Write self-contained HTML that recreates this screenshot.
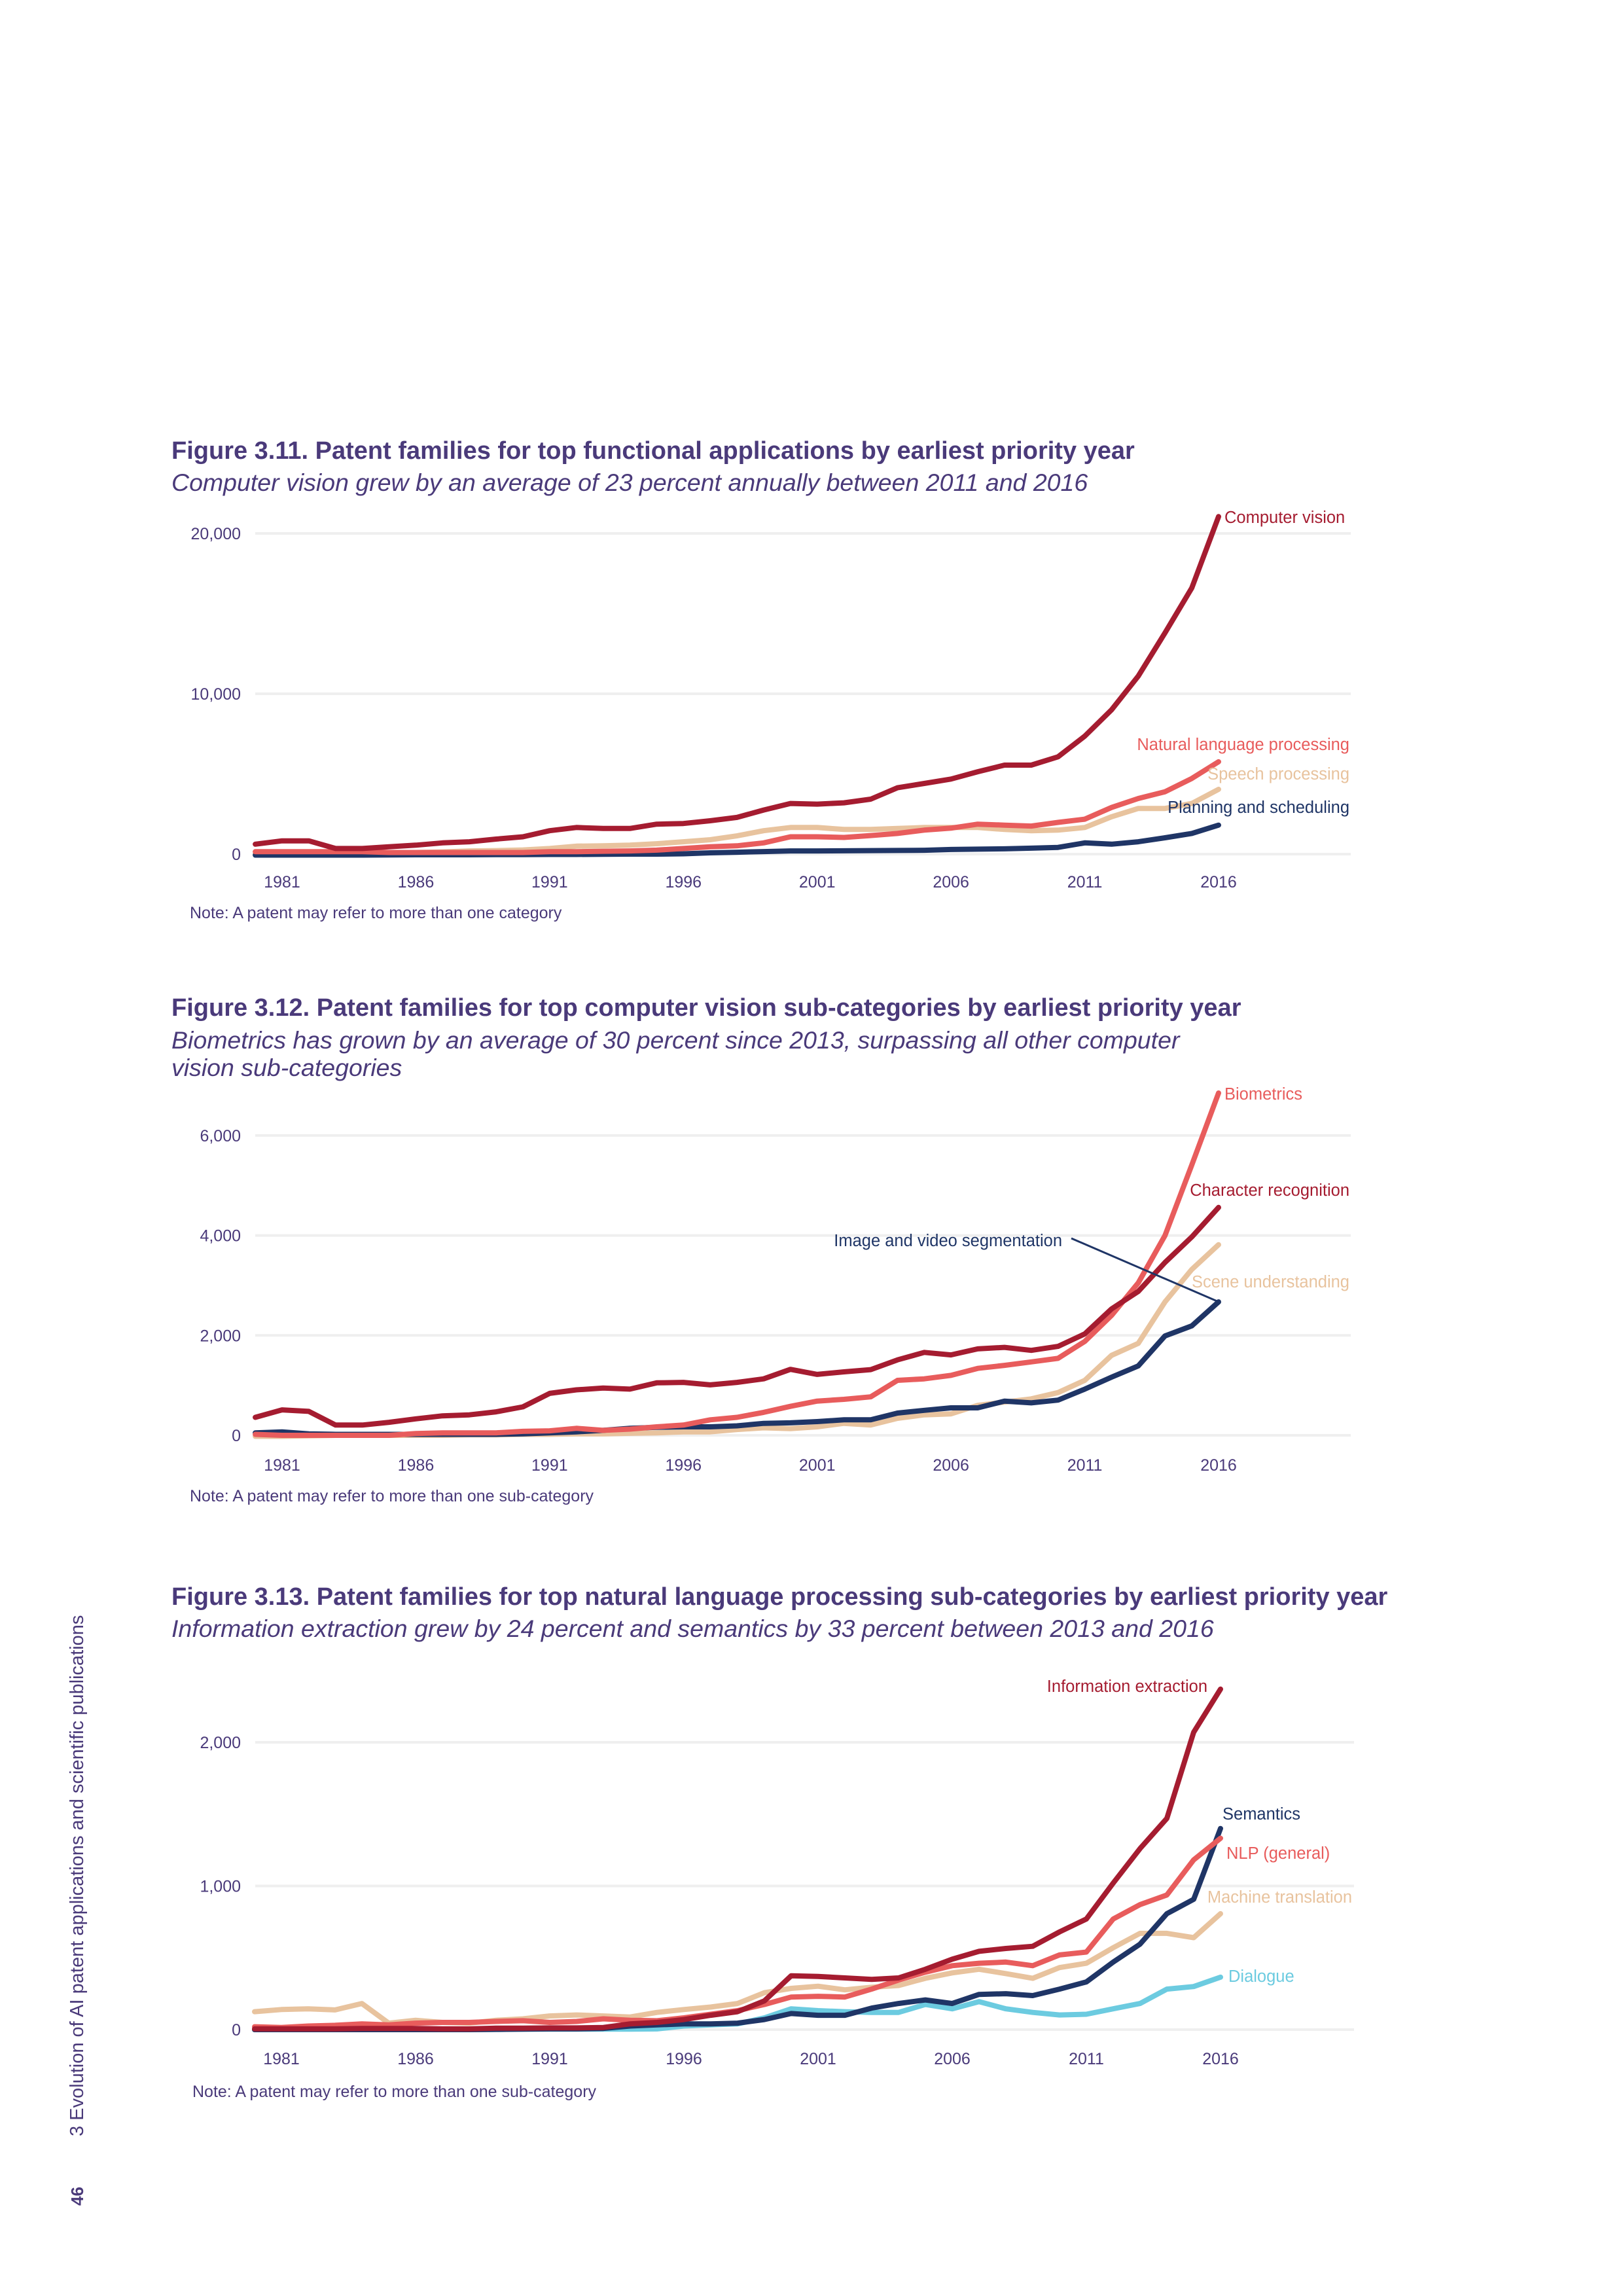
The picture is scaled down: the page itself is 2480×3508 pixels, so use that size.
<!DOCTYPE html>
<html><head><meta charset="utf-8">
<style>
body{margin:0;background:#fff;}
svg{display:block;font-family:"Liberation Sans",sans-serif;}
.t{font-weight:bold;font-size:38px;fill:#4a3a7a;}
.s{font-style:italic;font-size:37.5px;fill:#4a3a7a;}
.ax{font-size:25px;fill:#4a3a7a;}
.lb{font-size:25.5px;}
.nt{font-size:25px;fill:#4a3a7a;}
</style></head>
<body>
<svg id="page" width="2480" height="3508" viewBox="0 0 2480 3508" xmlns="http://www.w3.org/2000/svg">
<text transform="translate(127,3264) rotate(-90)" style="font-size:29px;fill:#4a3a7a">3 Evolution of AI patent applications and scientific publications</text>
<text transform="translate(127,3370) rotate(-90)" style="font-size:26px;font-weight:bold;fill:#4a3a7a">46</text>

<text class="t" x="262" y="701">Figure 3.11. Patent families for top functional applications by earliest priority year</text>
<text class="s" x="262" y="750">Computer vision grew by an average of 23 percent annually between 2011 and 2016</text>
<g id="c1"></g>
<text class="nt" x="290" y="1403">Note: A patent may refer to more than one category</text>

<text class="t" x="262" y="1552">Figure 3.12. Patent families for top computer vision sub-categories by earliest priority year</text>
<text class="s" x="262" y="1602">Biometrics has grown by an average of 30 percent since 2013, surpassing all other computer</text>
<text class="s" x="262" y="1644">vision sub-categories</text>
<g id="c2"></g>
<text class="nt" x="290" y="2294">Note: A patent may refer to more than one sub-category</text>

<text class="t" x="262" y="2452">Figure 3.13. Patent families for top natural language processing sub-categories by earliest priority year</text>
<text class="s" x="262" y="2501">Information extraction grew by 24 percent and semantics by 33 percent between 2013 and 2016</text>
<g id="c3"></g>
<text class="nt" x="294" y="3204">Note: A patent may refer to more than one sub-category</text>
</svg>
<script>
const years = [1980,1981,1982,1983,1984,1985,1986,1987,1988,1989,1990,1991,1992,1993,1994,1995,1996,1997,1998,1999,2000,2001,2002,2003,2004,2005,2006,2007,2008,2009,2010,2011,2012,2013,2014,2015,2016];
const xTickYears = [1981,1986,1991,1996,2001,2006,2011,2016];

// Figure 3.11
const c1Ticks = [0,10000,20000];
const c1TickLabels = ["0","10,000","20,000"];
const cvValues = [620,830,830,350,350,460,560,700,770,940,1080,1460,1660,1600,1600,1870,1910,2080,2290,2750,3160,3120,3200,3430,4140,4410,4680,5140,5550,5550,6070,7360,9000,11100,13800,16600,21050];
const nlpValues = [150,150,150,150,150,100,100,100,100,100,100,150,150,180,200,250,350,460,520,700,1080,1080,1040,1160,1290,1500,1620,1870,1810,1750,1980,2180,2910,3470,3890,4720,5760];
const speechValues = [0,0,20,40,60,80,100,140,200,220,260,350,500,520,560,650,770,900,1140,1460,1660,1660,1540,1540,1600,1660,1660,1660,1540,1460,1500,1660,2330,2850,2850,3160,4040];
const planningValues = [-60,-60,-60,-60,-60,-50,-40,-40,-40,-30,-30,-20,-20,-10,0,0,20,80,120,160,200,200,210,220,230,240,290,310,330,370,420,700,620,770,1020,1290,1810];

// Figure 3.12
const c2Ticks = [0,2000,4000,6000];
const c2TickLabels = ["0","2,000","4,000","6,000"];
const charRecValues = [360,510,480,205,205,260,330,390,410,470,570,840,910,945,925,1050,1060,1010,1060,1130,1320,1220,1270,1315,1510,1660,1610,1730,1760,1700,1780,2030,2530,2880,3460,3970,4560];
const biometricsValues = [20,0,0,0,0,0,35,50,50,50,80,90,140,100,125,170,205,310,360,460,580,685,720,770,1100,1130,1200,1340,1400,1470,1540,1880,2400,3050,4000,5410,6850];
const segmentationValues = [50,70,30,20,20,20,20,20,20,20,30,50,70,100,140,160,170,170,190,240,250,275,310,310,445,500,550,550,685,650,705,925,1165,1390,1990,2190,2670];
const sceneValues = [-20,-20,-10,0,0,0,0,0,10,10,20,20,30,30,40,50,70,70,115,150,135,170,240,205,340,410,430,600,665,730,855,1100,1600,1840,2670,3320,3815];

// Figure 3.13
const c3Ticks = [0,1000,2000];
const c3TickLabels = ["0","1,000","2,000"];
const infoExtValues = [5,5,5,5,8,8,8,5,5,10,10,12,12,15,40,50,70,100,125,200,375,370,360,350,360,420,490,545,565,580,680,770,1020,1260,1470,2070,2370];
const semanticsValues = [0,0,0,0,0,0,0,0,0,2,3,5,5,8,25,33,40,40,45,70,112,100,100,150,182,207,182,245,250,237,282,332,470,595,807,907,1400];
const nlpGeneralValues = [20,15,25,30,40,33,45,50,50,57,62,50,57,75,65,62,82,107,132,175,227,232,227,282,345,400,445,462,470,445,520,540,770,870,937,1182,1332];
const mtValues = [125,140,145,137,182,45,65,50,45,65,75,95,102,95,88,120,140,157,182,257,287,302,277,295,307,357,395,420,390,357,432,462,570,670,670,640,807];
const dialogueValues = [0,0,0,0,0,0,0,0,0,2,3,3,3,3,3,5,25,33,40,82,145,132,125,120,120,175,145,195,145,120,102,107,145,182,282,300,365];

const NS = "http://www.w3.org/2000/svg";
function mk(parent, tag, attrs){const e=document.createElementNS(NS,tag);for(const k in attrs)e.setAttribute(k,attrs[k]);parent.appendChild(e);return e;}

function drawChart(id, cfg){
  const g = document.getElementById(id);
  const x = y => cfg.x0 + (y - 1981) * (cfg.x1 - cfg.x0) / 35;
  const yv = v => cfg.y0 - v * cfg.pxPer;
  cfg.ticks.forEach((t,i)=>{
    const l = mk(g,'line',{x1:390,x2:cfg.gridEnd,y1:yv(t),y2:yv(t),stroke:'#efefef','stroke-width':4});
    
    
    const tx = mk(g,'text',{x:368,y:yv(t)+9,'text-anchor':'end',class:'ax'});
    
    
    tx.textContent = cfg.tickLabels[i];
  });
  xTickYears.forEach(yr=>{
    const tx = mk(g,'text',{x:x(yr),y:cfg.xLabelY,'text-anchor':'middle',class:'ax'});
    
    
    tx.textContent = yr;
  });
  cfg.series.forEach(s=>{
    const d = s.values.map((v,i)=>(i?'L':'M')+x(years[i]).toFixed(1)+','+yv(v).toFixed(1)).join(' ');
    const p = mk(g,'path',{d:d,fill:'none',stroke:s.color,'stroke-width':8,'stroke-linejoin':'round','stroke-linecap':'round'});
    
    
  });
  cfg.series.forEach(s=>{
    const t = mk(g,'text',{x:s.lx,y:s.ly,'text-anchor':s.anchor||'start',class:'lb',fill:s.color});
    
    
    t.textContent = s.label;
  });
}

drawChart('c1',{x0:431,x1:1862,y0:1305,pxPer:245/10000,gridEnd:2064,xLabelY:1356,ticks:c1Ticks,tickLabels:c1TickLabels,series:[
  {name:'speech-processing',values:speechValues,color:'#e8c39e',label:'Speech processing',lx:2062,ly:1191,anchor:'end'},
  {name:'planning-scheduling',values:planningValues,color:'#1f3566',label:'Planning and scheduling',lx:2062,ly:1242,anchor:'end'},
  {name:'nlp',values:nlpValues,color:'#e85c5c',label:'Natural language processing',lx:2062,ly:1146,anchor:'end'},
  {name:'computer-vision',values:cvValues,color:'#a51c30',label:'Computer vision',lx:1871,ly:799}
]});

drawChart('c2',{x0:431,x1:1862,y0:2193,pxPer:152.7/2000,gridEnd:2064,xLabelY:2247,ticks:c2Ticks,tickLabels:c2TickLabels,series:[
  {name:'scene-understanding',values:sceneValues,color:'#e8c39e',label:'Scene understanding',lx:2062,ly:1967,anchor:'end'},
  {name:'image-video-segmentation',values:segmentationValues,color:'#1f3566',label:'Image and video segmentation',lx:1623,ly:1904,anchor:'end'},
  {name:'biometrics',values:biometricsValues,color:'#e85c5c',label:'Biometrics',lx:1871,ly:1680},
  {name:'character-recognition',values:charRecValues,color:'#a51c30',label:'Character recognition',lx:2062,ly:1827,anchor:'end'}
]});
const leader = mk(document.getElementById('c2'),'line',{x1:1637,y1:1892,x2:1862,y2:1989,stroke:'#1f3566','stroke-width':3});



drawChart('c3',{x0:430,x1:1865,y0:3101,pxPer:219.5/1000,gridEnd:2069,xLabelY:3154,ticks:c3Ticks,tickLabels:c3TickLabels,series:[
  {name:'dialogue',values:dialogueValues,color:'#6ccbe0',label:'Dialogue',lx:1877,ly:3028},
  {name:'machine-translation',values:mtValues,color:'#e8c39e',label:'Machine translation',lx:2066,ly:2907,anchor:'end'},
  {name:'semantics',values:semanticsValues,color:'#1f3566',label:'Semantics',lx:1868,ly:2780},
  {name:'nlp-general',values:nlpGeneralValues,color:'#e85c5c',label:'NLP (general)',lx:1874,ly:2840},
  {name:'information-extraction',values:infoExtValues,color:'#a51c30',label:'Information extraction',lx:1845,ly:2585,anchor:'end'}
]});
</script>
</body></html>
